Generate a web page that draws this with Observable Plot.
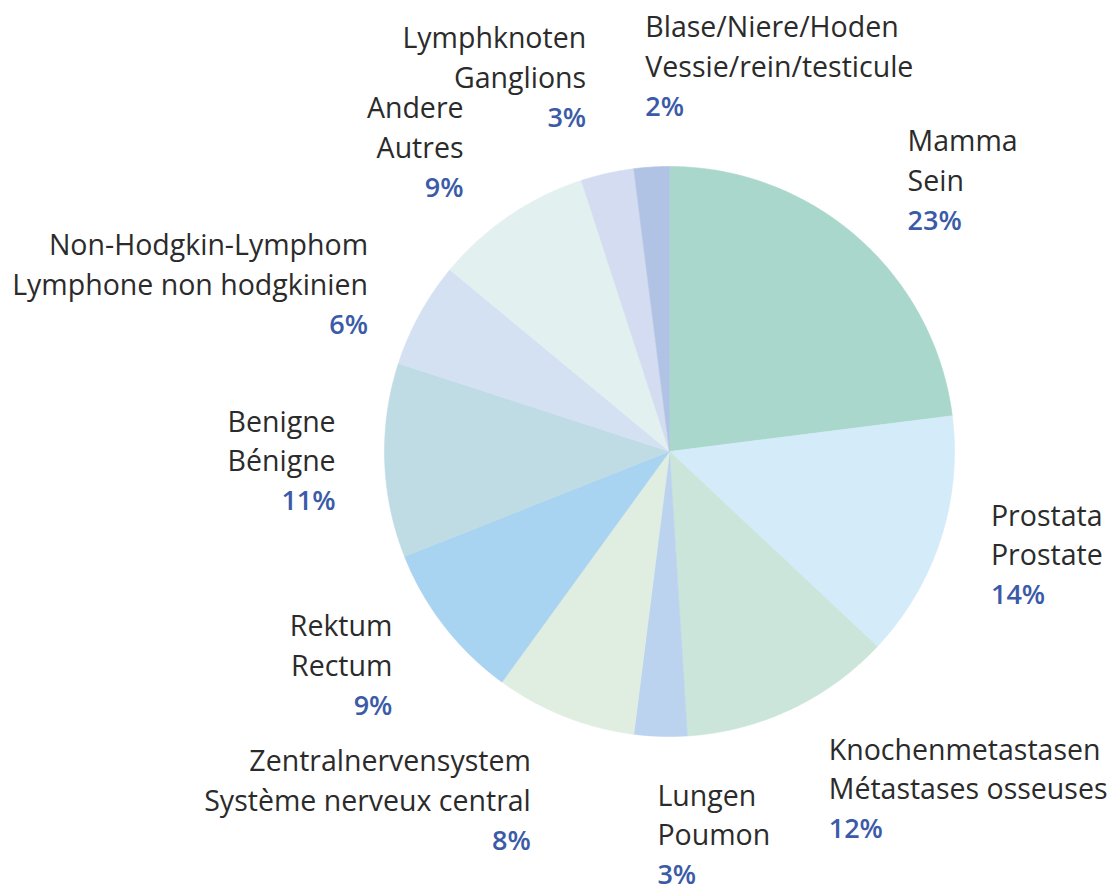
<!DOCTYPE html>
<html>
<head>
<meta charset="utf-8">
<script src="https://cdn.jsdelivr.net/npm/d3@7"></script>
<script src="https://cdn.jsdelivr.net/npm/@observablehq/plot@0.6"></script>
<style>
  html, body { margin: 0; padding: 0; background: #fff; }
  #chart svg { display: block; }
</style>
</head>
<body>
<div id="chart"></div>
<script>
// ---- data ----
const namesDE = ["Mamma", "Prostata", "Knochenmetastasen", "Lungen", "Zentralnervensystem", "Rektum", "Benigne", "Non-Hodgkin-Lymphom", "Andere", "Lymphknoten", "Blase/Niere/Hoden"];
const namesFR = ["Sein", "Prostate", "Métastases osseuses", "Poumon", "Système nerveux central", "Rectum", "Bénigne", "Lymphone non hodgkinien", "Autres", "Ganglions", "Vessie/rein/testicule"];
const shares = [23, 14, 12, 3, 8, 9, 11, 6, 9, 3, 2];
const colors = ["#a9d7cb", "#d4ebf9", "#cbe5da", "#bcd3ef", "#e0eee2", "#a8d3f1", "#bfdce5", "#d4e1f3", "#e2f0ef", "#d3dcf0", "#b1c3e4"];

// ---- layout ----
const W = 1120, H = 894;
const CX = 669, CY = 451, R = 285;       // pie centre / radius (px)
const LRX = 334 / R, LRY = 385 / R;      // label ellipse (in radius units)
const LINE = 39.5;                        // label line spacing (px)
const FONT = "'Open Sans', sans-serif";

const total = d3.sum(shares);
let acc = 0;
const slices = shares.map((v, i) => {
  const a0 = acc / total * 2 * Math.PI;
  acc += v;
  const a1 = acc / total * 2 * Math.PI;
  return {i, de: namesDE[i], fr: namesFR[i], pct: v + "%", color: colors[i], a0, a1, am: (a0 + a1) / 2};
});

// polygon points per slice (unit circle, angle clockwise from top)
function slicePoints(s) {
  const pts = [{x: 0, y: 0}];
  const n = Math.max(4, Math.ceil((s.a1 - s.a0) / 0.01));
  for (let k = 0; k <= n; k++) {
    const a = s.a0 + (s.a1 - s.a0) * k / n;
    pts.push({x: Math.sin(a), y: Math.cos(a)});
  }
  pts.push({x: 0, y: 0});
  return pts;
}

// labels on an ellipse around the pie, at each slice's mid angle
const labels = slices.map(s => {
  const sn = Math.sin(s.am), cs = Math.cos(s.am);
  const r = 1 / Math.sqrt((sn * sn) / (LRX * LRX) + (cs * cs) / (LRY * LRY));
  const x = r * sn, y = r * cs;
  return {...s, x, y, anchor: x > -0.15 ? "start" : "end"};
});

const pieMarks = slices.map(s =>
  Plot.line(slicePoints(s), {x: "x", y: "y", fill: s.color, stroke: s.color, strokeWidth: 0.6, curve: "linear"})
);

const textOpts = (anchor) => ({x: "x", y: "y", textAnchor: anchor, lineAnchor: "middle", fontFamily: FONT, fontSize: 28.5});

const labelMarks = [];
for (const anchor of ["start", "end"]) {
  const d = labels.filter(l => l.anchor === anchor);
  labelMarks.push(
    Plot.text(d, {...textOpts(anchor), text: "de", dy: -LINE, fill: "#2b2b2b"}),
    Plot.text(d, {...textOpts(anchor), text: "fr", dy: 0, fill: "#2b2b2b"}),
    Plot.text(d, {...textOpts(anchor), text: "pct", dy: LINE, fill: "#3b5ba8", fontWeight: 600, fontSize: 27})
  );
}

const chart = Plot.plot({
  width: W,
  height: H,
  margin: 0,
  style: {background: "#fff", overflow: "visible"},
  x: {type: "linear", domain: [-CX / R, (W - CX) / R], range: [0, W], axis: null},
  y: {type: "linear", domain: [-(H - CY) / R, CY / R], range: [H, 0], axis: null},
  marks: [...pieMarks, ...labelMarks]
});

document.getElementById("chart").appendChild(chart);
</script>
</body>
</html>
